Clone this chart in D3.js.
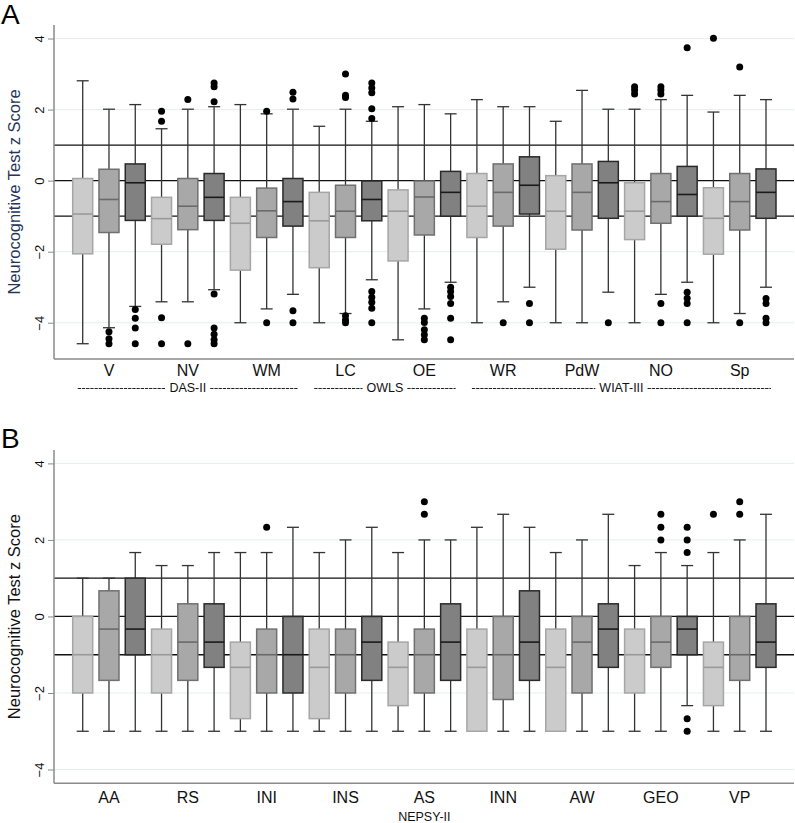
<!DOCTYPE html>
<html><head><meta charset="utf-8">
<script src="https://cdn.jsdelivr.net/npm/d3@7"></script>
<style>body{margin:0;background:#fff}svg{font-family:"Liberation Sans",Arial,sans-serif}</style>
</head><body><div id="c"></div>
<script>
// ---------- DATA ----------
const categoriesA = ["V","NV","WM","LC","OE","WR","PdW","NO","Sp"];
const groupLabelsA = [
  {text:"DAS-II", from:0, to:2},
  {text:"OWLS", from:3, to:4},
  {text:"WIAT-III", from:5, to:8}
];
const categoriesB = ["AA","RS","INI","INS","AS","INN","AW","GEO","VP"];
const groupLabelB = "NEPSY-II";
const series = ["light","mid","dark"];
const ticksY = [-4,-2,0,2,4];
const refLines = [-1,0,1];

// [whiskerLow, q1, median, q3, whiskerHigh] per category
const aLight = [[-4.59,-2.06,-0.94,0.06,2.81],[-3.41,-1.79,-1.07,-0.47,1.46],[-4.0,-2.52,-1.2,-0.47,2.14],
  [-4.0,-2.45,-1.13,-0.33,1.53],[-4.48,-2.26,-0.86,-0.26,2.08],[-4.0,-1.6,-0.72,0.2,2.28],
  [-4.0,-1.93,-0.86,0.14,1.67],[-4.0,-1.66,-0.86,-0.06,2.01],[-4.0,-2.07,-1.06,-0.2,1.93]];
const aMid = [[-4.14,-1.46,-0.53,0.32,2.01],[-3.41,-1.38,-0.72,0.06,2.01],[-3.61,-1.6,-0.85,-0.21,1.88],
  [-3.74,-1.6,-0.86,-0.13,2.01],[-3.61,-1.53,-0.46,-0.01,2.14],[-3.41,-1.28,-0.33,0.47,2.08],
  [-4.0,-1.39,-0.33,0.47,2.54],[-3.2,-1.2,-0.59,0.2,2.28],[-3.74,-1.39,-0.59,0.2,2.4]];
const aDark = [[-3.54,-1.12,-0.06,0.47,2.14],[-3.07,-1.12,-0.47,0.2,2.08],[-3.2,-1.28,-0.59,0.06,2.01],
  [-2.79,-1.13,-0.53,-0.01,1.67],[-2.86,-1.0,-0.33,0.26,1.88],[-3.0,-0.94,-0.13,0.67,2.08],
  [-3.14,-1.06,-0.06,0.54,2.01],[-2.86,-1.0,-0.39,0.4,2.4],[-3.0,-1.06,-0.33,0.33,2.28]];
const aLightOut = [[],[1.95,1.67,-3.86,-4.59],[],[],[],[],[],[2.64,2.55,2.44],[4.01]];
const aMidOut = [[-4.25,-4.45,-4.59],[2.28,-4.59],[1.95,-4.0],[3.0,2.4,2.34,-3.8,-3.92,-4.0],
  [-3.87,-3.99,-4.2,-4.34,-4.48],[-4.0],[],[2.64,2.55,2.44,-3.46,-4.0],[3.2,-4.0]];
const aDarkOut = [[-3.63,-3.87,-4.15,-4.59],[2.75,2.64,2.22,-3.19,-4.15,-4.32,-4.48,-4.59],[2.49,2.3,-3.66,-4.0],
  [2.75,2.61,2.47,2.02,1.75,-3.12,-3.28,-3.42,-3.59,-4.0],[-3.0,-3.12,-3.26,-3.46,-3.87,-4.48],
  [-3.46,-4.0],[-4.0],[3.74,-3.14,-3.31,-3.46,-4.0],[-3.32,-3.46,-3.87,-4.0]];

const bLight = [[-3,-2,-1,0,1],[-3,-2,-1,-0.33,1.33],[-3,-2.67,-1.33,-0.67,1.67],
  [-3,-2.67,-1.33,-0.33,1.67],[-3,-2.33,-1.33,-0.67,1.67],[-3,-3,-1.33,-0.33,2.33],
  [-3,-3,-1.33,-0.33,1.67],[-3,-2,-1,-0.33,1.33],[-3,-2.33,-1.33,-0.67,1.67]];
const bMid = [[-3,-1.67,-0.33,0.67,1],[-3,-1.67,-0.67,0.33,1.33],[-3,-2,-1,-0.33,1.67],
  [-3,-2,-1,-0.33,2],[-3,-2,-1,-0.33,2],[-3,-2.17,-1,0,2.67],
  [-3,-2,-0.67,0,2],[-3,-1.33,-0.67,0,1.67],[-3,-1.67,-1,0,2]];
const bDark = [[-3,-1,-0.33,1,1.67],[-3,-1.33,-0.67,0.33,1.67],[-3,-2,-1,0,2.33],
  [-3,-1.67,-0.67,0,2.33],[-3,-1.67,-0.67,0.33,2],[-3,-1.67,-0.67,0.67,2.33],
  [-3,-1.33,-0.33,0.33,2.67],[-2.33,-1,-0.33,0,1.33],[-3,-1.33,-0.67,0.33,2.67]];
const bLightOut = [[],[],[],[],[],[],[],[],[2.67]];
const bMidOut = [[],[],[2.33],[],[3,2.67],[],[],[2.67,2.33,2],[3,2.67]];
const bDarkOut = [[],[],[],[],[],[],[],[2.33,2,1.67,-2.67,-3],[]];

// ---------- STYLE ----------
const W = 795, H = 823;
const styles = {
  light:{fill:"#cbcbcb", stroke:"#a6a6a6", med:"#9a9a9a"},
  mid:{fill:"#a8a8a8", stroke:"#707070", med:"#6a6a6a"},
  dark:{fill:"#818181", stroke:"#2a2a2a", med:"#1a1a1a"}
};
const svg = d3.select("#c").append("svg").attr("width",W).attr("height",H);

const boxKeys = [];
categoriesA.forEach((c,i)=>series.forEach(s=>boxKeys.push(i+"_"+s)));
const x = d3.scalePoint().domain(boxKeys).range([82.7, 766]);
const boxW = 20, capW = 12;

function panel(cfg){
  const g = svg.append("g");
  const y = d3.scaleLinear().domain(cfg.domain).range(cfg.range);
  const x0 = 54, x1 = 794;
  g.selectAll(".grid").data(ticksY).join("line")
    .attr("x1",x0).attr("x2",x1).attr("y1",d=>y(d)).attr("y2",d=>y(d))
    .attr("stroke","#e4eeee").attr("stroke-width",1);
  g.selectAll(".ref").data(refLines).join("line")
    .attr("x1",x0).attr("x2",x1).attr("y1",d=>y(d)).attr("y2",d=>y(d))
    .attr("stroke","#111").attr("stroke-width",1.3);
  const ax = g.append("g").attr("transform",`translate(${x0},0)`)
    .call(d3.axisLeft(y).tickValues(ticksY).tickSize(6).tickFormat(d3.format("d")));
  ax.select(".domain").attr("stroke","#8a8a8a").attr("stroke-width",1.5).attr("d",`M0,${cfg.range[1]}V${cfg.range[0]}`);
  ax.selectAll(".tick line").attr("stroke","#8a8a8a");
  ax.selectAll(".tick text").attr("font-size",13).attr("fill","#111")
    .attr("text-anchor","middle").attr("x",0).attr("y",0).attr("dy","0.35em")
    .attr("transform","translate(-15,0) rotate(-90)");
  g.append("line").attr("x1",x0).attr("x2",x1).attr("y1",cfg.range[0]).attr("y2",cfg.range[0])
    .attr("stroke","#8a8a8a").attr("stroke-width",1.5);
  g.append("text").attr("transform",`translate(${cfg.titleX},${(cfg.range[0]+cfg.range[1])/2}) rotate(-90)`)
    .attr("text-anchor","middle").attr("font-size",16.5).attr("fill",cfg.titleColor)
    .text("Neurocognitive Test z Score");
  g.append("text").attr("x",1).attr("y",cfg.letterY).attr("font-size",28).attr("fill","#000").text(cfg.letter);

  series.forEach((s,si)=>{
    const st = styles[s];
    const stats = cfg.stats[si], outs = cfg.outs[si];
    stats.forEach((d,i)=>{
      const cx = x(i+"_"+s);
      const [lo,q1,med,q3,hi] = d;
      const bg = g.append("g");
      bg.append("line").attr("x1",cx).attr("x2",cx).attr("y1",y(lo)).attr("y2",y(hi)).attr("stroke","#333").attr("stroke-width",1.3);
      [lo,hi].forEach(v=>bg.append("line").attr("x1",cx-capW/2).attr("x2",cx+capW/2).attr("y1",y(v)).attr("y2",y(v)).attr("stroke","#333").attr("stroke-width",1.3));
      bg.append("rect").attr("x",cx-boxW/2).attr("width",boxW).attr("y",y(q3)).attr("height",y(q1)-y(q3))
        .attr("fill",st.fill).attr("stroke",st.stroke).attr("stroke-width",1.5);
      bg.append("line").attr("x1",cx-boxW/2).attr("x2",cx+boxW/2).attr("y1",y(med)).attr("y2",y(med)).attr("stroke",st.med).attr("stroke-width",1.6);
      bg.selectAll("circle").data(outs[i]).join("circle").attr("cx",cx).attr("cy",v=>y(v)).attr("r",3.5).attr("fill","#000");
    });
  });
  cfg.cats.forEach((c,i)=>{
    g.append("text").attr("x",x(i+"_mid")).attr("y",cfg.catY).attr("text-anchor","middle")
      .attr("font-size",16).attr("fill","#111").text(c);
  });
  return g;
}

const gA = panel({domain:[-5.02,4.38], range:[359,25], stats:[aLight,aMid,aDark], outs:[aLightOut,aMidOut,aDarkOut],
  cats:categoriesA, catY:376, titleX:20, titleColor:"#26345a", letter:"A", letterY:24});
groupLabelsA.forEach(gl=>{
  const a = x(gl.from+"_light")-5, b = x(gl.to+"_dark")+5, cx = (a+b)/2;
  const t = gA.append("text").attr("x",cx).attr("y",392).attr("text-anchor","middle").attr("font-size",12.5).attr("fill","#111").text(gl.text);
  const tw = t.node().getComputedTextLength();
  [[a, cx-tw/2-4],[cx+tw/2+4, b]].forEach(([p,q])=>{
    gA.append("line").attr("x1",p).attr("x2",q).attr("y1",388.5).attr("y2",388.5)
      .attr("stroke","#222").attr("stroke-width",1).attr("stroke-dasharray","3.3,0.9");
  });
});
const gB = panel({domain:[-4.36,4.35], range:[783.3,450], stats:[bLight,bMid,bDark], outs:[bLightOut,bMidOut,bDarkOut],
  cats:categoriesB, catY:803, titleX:20, titleColor:"#111", letter:"B", letterY:448});
gB.append("text").attr("x",x("4_mid")).attr("y",821).attr("text-anchor","middle").attr("font-size",12.5).attr("fill","#111").text(groupLabelB);
</script></body></html>
